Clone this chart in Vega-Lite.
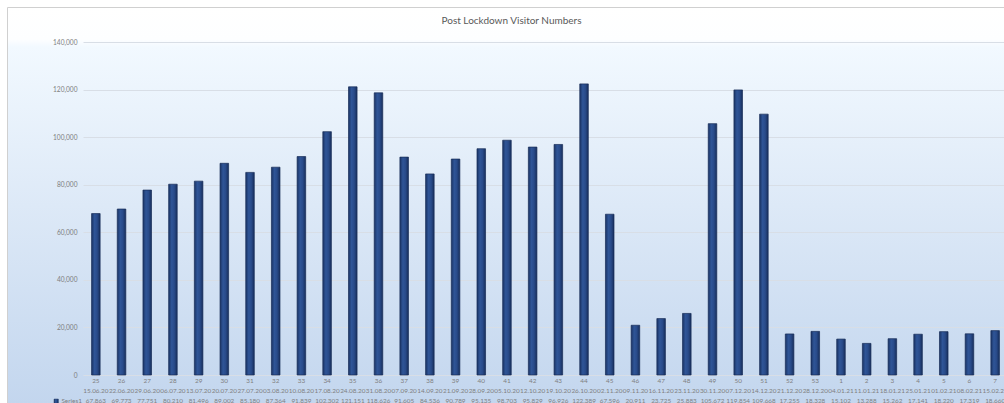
{
  "$schema": "https://vega.github.io/schema/vega-lite/v6.json",
  "width": 997,
  "height": 396,
  "autosize": {"type": "none"},
  "padding": {"left": 7, "top": 7, "right": 0, "bottom": 0},
  "background": "#ffffff",
  "title": {
    "text": "Post Lockdown Visitor Numbers",
    "font": "Lato",
    "fontSize": 10,
    "fontWeight": "normal",
    "color": "#595959",
    "anchor": "middle",
    "frame": "group",
    "dx": 6,
    "offset": -19
  },
  "datasets": {
    "visits": [
      {"week": "25", "date": "15.06.20", "visitors": 67863, "series": "Series1"},
      {"week": "26", "date": "22.06.20", "visitors": 69773, "series": "Series1"},
      {"week": "27", "date": "29.06.20", "visitors": 77751, "series": "Series1"},
      {"week": "28", "date": "06.07.20", "visitors": 80210, "series": "Series1"},
      {"week": "29", "date": "13.07.20", "visitors": 81496, "series": "Series1"},
      {"week": "30", "date": "20.07.20", "visitors": 89002, "series": "Series1"},
      {"week": "31", "date": "27.07.20", "visitors": 85180, "series": "Series1"},
      {"week": "32", "date": "03.08.20", "visitors": 87364, "series": "Series1"},
      {"week": "33", "date": "10.08.20", "visitors": 91839, "series": "Series1"},
      {"week": "34", "date": "17.08.20", "visitors": 102302, "series": "Series1"},
      {"week": "35", "date": "24.08.20", "visitors": 121151, "series": "Series1"},
      {"week": "36", "date": "31.08.20", "visitors": 118626, "series": "Series1"},
      {"week": "37", "date": "07.09.20", "visitors": 91605, "series": "Series1"},
      {"week": "38", "date": "14.09.20", "visitors": 84536, "series": "Series1"},
      {"week": "39", "date": "21.09.20", "visitors": 90789, "series": "Series1"},
      {"week": "40", "date": "28.09.20", "visitors": 95135, "series": "Series1"},
      {"week": "41", "date": "05.10.20", "visitors": 98703, "series": "Series1"},
      {"week": "42", "date": "12.10.20", "visitors": 95829, "series": "Series1"},
      {"week": "43", "date": "19.10.20", "visitors": 96926, "series": "Series1"},
      {"week": "44", "date": "26.10.20", "visitors": 122389, "series": "Series1"},
      {"week": "45", "date": "02.11.20", "visitors": 67596, "series": "Series1"},
      {"week": "46", "date": "09.11.20", "visitors": 20911, "series": "Series1"},
      {"week": "47", "date": "16.11.20", "visitors": 23725, "series": "Series1"},
      {"week": "48", "date": "23.11.20", "visitors": 25883, "series": "Series1"},
      {"week": "49", "date": "30.11.20", "visitors": 105672, "series": "Series1"},
      {"week": "50", "date": "07.12.20", "visitors": 119854, "series": "Series1"},
      {"week": "51", "date": "14.12.20", "visitors": 109668, "series": "Series1"},
      {"week": "52", "date": "21.12.20", "visitors": 17255, "series": "Series1"},
      {"week": "53", "date": "28.12.20", "visitors": 18328, "series": "Series1"},
      {"week": "1", "date": "04.01.21", "visitors": 15102, "series": "Series1"},
      {"week": "2", "date": "11.01.21", "visitors": 13288, "series": "Series1"},
      {"week": "3", "date": "18.01.21", "visitors": 15262, "series": "Series1"},
      {"week": "4", "date": "25.01.21", "visitors": 17141, "series": "Series1"},
      {"week": "5", "date": "01.02.21", "visitors": 18220, "series": "Series1"},
      {"week": "6", "date": "08.02.21", "visitors": 17319, "series": "Series1"},
      {"week": "7", "date": "15.02.21", "visitors": 18660, "series": "Series1"}
    ]
  },
  "data": {"name": "visits"},
  "mark": {
    "type": "bar",
    "strokeWidth": 0.7,
    "fill": {
      "gradient": "linear",
      "x1": 0, "y1": 0, "x2": 1, "y2": 0,
      "stops": [
        {"offset": 0, "color": "#1b3465"},
        {"offset": 0.35, "color": "#2f5597"},
        {"offset": 0.65, "color": "#294b8a"},
        {"offset": 1, "color": "#182f5c"}
      ]
    }
  },
  "encoding": {
    "x": {
      "field": "week",
      "type": "nominal",
      "sort": null,
      "scale": {"range": [76, 1001], "paddingInner": 0.667, "paddingOuter": 0.3335},
      "axis": {
        "orient": "bottom",
        "offset": -28,
        "title": null,
        "domain": false,
        "ticks": false,
        "grid": false,
        "labelAngle": 0,
        "labelOverlap": false,
        "labelBound": false,
        "labelFlush": false,
        "labelPadding": 2.5,
        "labelFont": "Lato",
        "labelFontSize": 6.4,
        "labelColor": "#7f7f7f",
        "labelLineHeight": 10,
        "labelExpr": "[datum.value, data('visits')[indexof(pluck(data('visits'), 'week'), datum.value)].date, format(data('visits')[indexof(pluck(data('visits'), 'week'), datum.value)].visitors, ',')]"
      }
    },
    "y": {
      "field": "visitors",
      "type": "quantitative",
      "scale": {"domain": [0, 140000], "range": [368, 35], "nice": false},
      "axis": {
        "orient": "left",
        "offset": -76,
        "title": null,
        "domain": false,
        "ticks": false,
        "values": [0, 20000, 40000, 60000, 80000, 100000, 120000, 140000],
        "labelExpr": "format(datum.value, ',')",
        "labelPadding": 6,
        "labelFont": "Lato",
        "labelFontSize": 6.6,
        "labelColor": "#7f7f7f",
        "grid": true,
        "gridColor": "#d8dee6",
        "gridWidth": 1
      }
    },
    "stroke": {
      "field": "series",
      "type": "nominal",
      "scale": {"range": ["#172c57"]},
      "legend": {
        "orient": "none",
        "legendX": 46,
        "legendY": 391,
        "title": null,
        "symbolType": "square",
        "symbolSize": 18,
        "symbolFillColor": "#2b4d8c",
        "symbolStrokeWidth": 0.5,
        "labelFont": "Lato",
        "labelFontSize": 6.4,
        "labelColor": "#7f7f7f",
        "labelOffset": 2
      }
    }
  },
  "config": {
    "view": {
      "stroke": "#d0d0d0",
      "strokeWidth": 1,
      "fill": {
        "gradient": "linear",
        "x1": 0, "y1": 0, "x2": 0, "y2": 1,
        "stops": [
          {"offset": 0, "color": "#ffffff"},
          {"offset": 0.08, "color": "#fdfeff"},
          {"offset": 0.1, "color": "#f2f9ff"},
          {"offset": 0.5, "color": "#dde9f7"},
          {"offset": 1, "color": "#c3d6ee"}
        ]
      }
    }
  }
}
